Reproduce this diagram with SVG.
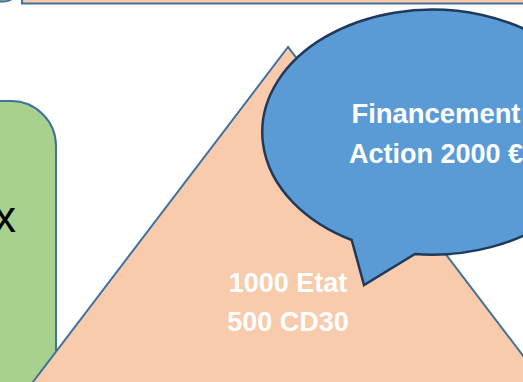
<svg xmlns="http://www.w3.org/2000/svg" width="523" height="382" viewBox="0 0 523 382">
<style>
.blue{stroke:#41719c;stroke-width:2}
.green{fill:#a9d18e}
.peach{fill:#f8cbad}
.wt{fill:#ffffff;font-family:"Liberation Sans",Arial,sans-serif;font-weight:bold;font-size:27px;text-anchor:middle}
</style>
<rect width="523" height="382" fill="#ffffff"/>
<g id="top-left-box"><rect class="green blue" x="-60" y="-40" width="78" height="41.5" rx="14"/></g>
<g id="top-bar"><rect class="peach blue" x="22" y="-30" width="520" height="33.5"/></g>
<g id="left-box">
<rect class="green blue" x="-50" y="101" width="106" height="400" rx="45"/>
<text x="-6" y="231.5" font-family="Liberation Sans,Arial,sans-serif" font-size="44" fill="#000000">x</text>
</g>
<g id="triangle">
<polygon class="peach blue" points="288,47 4,420 572,420"/>
<text class="wt" x="288" y="292">1000 Etat</text>
<text class="wt" x="288" y="330.5">500 CD30</text>
</g>
<g id="bubble">
<path d="M351.7,240 L364,285 L415,254 A170,122.5 0 1 0 351.7,240 Z" fill="#5b9bd5" stroke="#1f3a5a" stroke-width="2.5" stroke-linejoin="miter"/>
<text class="wt" x="436" y="123" textLength="169" lengthAdjust="spacingAndGlyphs">Financement</text>
<text class="wt" x="436" y="162.5">Action 2000 €</text>
</g>
<g id="connectors"></g>
</svg>
